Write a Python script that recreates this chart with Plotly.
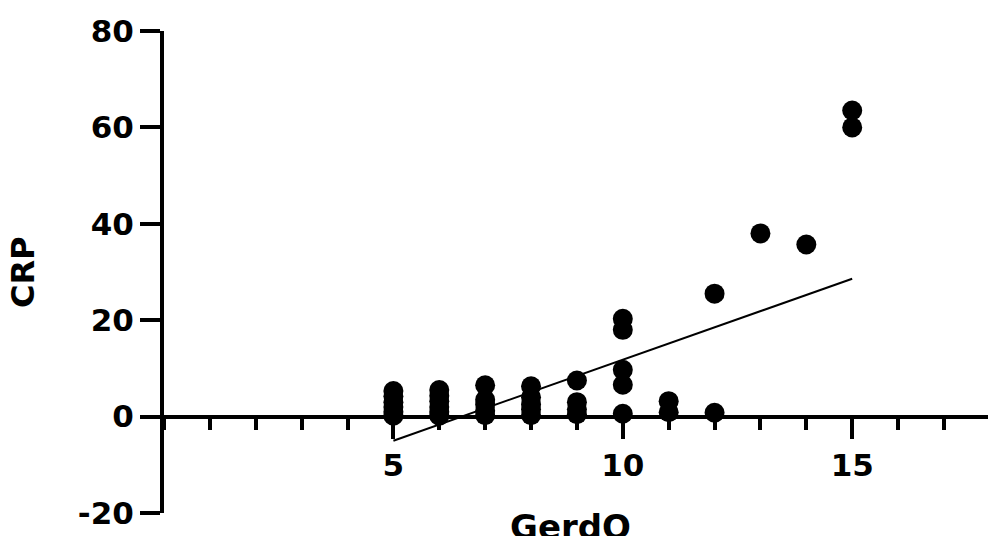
import plotly.graph_objects as go

# Data
gerdq_x = [5, 5, 5, 5, 5, 5,
           6, 6, 6, 6, 6, 6,
           7, 7, 7, 7, 7,
           8, 8, 8, 8, 8,
           9, 9, 9, 9,
           10, 10, 10, 10, 10,
           11, 11,
           12, 12,
           13,
           14,
           15, 15]
crp_y = [0.2, 1.0, 2.0, 3.0, 4.2, 5.3,
         0.2, 1.0, 2.0, 3.2, 4.3, 5.5,
         0.3, 1.2, 2.5, 3.5, 6.5,
         0.3, 1.5, 2.5, 4.0, 6.3,
         0.5, 1.5, 3.0, 7.5,
         0.6, 6.6, 9.7, 18.0, 20.3,
         0.9, 3.2,
         0.8, 25.5,
         38.0,
         35.7,
         60.0, 63.5]

fit_x = [5, 15]
fit_y = [-5.0, 28.6]

x_major_ticks = [5, 10, 15]
y_ticks = [-20, 0, 20, 40, 60, 80]
y_tick_labels = ["-20", "0", "20", "40", "60", "80"]

FONT = "DejaVu Sans, Liberation Sans, Arial, sans-serif"

fig = go.Figure()
fig.add_trace(go.Scatter(
    x=gerdq_x, y=crp_y, mode="markers",
    marker=dict(color="black", size=20, symbol="circle"),
    showlegend=False, cliponaxis=False,
))
fig.add_trace(go.Scatter(
    x=fit_x, y=fit_y, mode="lines",
    line=dict(color="black", width=2),
    showlegend=False, cliponaxis=False,
))

fig.update_layout(
    width=988, height=536,
    margin=dict(l=164, r=0, t=31, b=23),
    paper_bgcolor="white", plot_bgcolor="white",
    font=dict(family=FONT, color="black"),
    xaxis=dict(
        range=[0, 17.96], domain=[0, 1],
        anchor="free", position=0.2,
        showgrid=False, zeroline=False,
        showline=True, linecolor="black", linewidth=4,
        tickmode="array", tickvals=x_major_ticks,
        ticks="outside", ticklen=20, tickwidth=4, tickcolor="black",
        tickfont=dict(size=31, family=FONT, weight="bold"),
        minor=dict(dtick=1, tick0=0, ticks="outside", ticklen=11, tickwidth=4,
                   tickcolor="black", showgrid=False),
        layer="above traces",
    ),
    yaxis=dict(
        range=[-20, 80], domain=[0, 1],
        showgrid=False, zeroline=False,
        showline=True, linecolor="black", linewidth=4,
        tickmode="array", tickvals=y_ticks, ticktext=y_tick_labels,
        ticks="outside", ticklen=20, tickwidth=4, tickcolor="black",
        tickfont=dict(size=31, family=FONT, weight="bold"),
        layer="above traces",
    ),
    annotations=[
        dict(text="CRP", xref="paper", yref="paper", x=-0.171, y=0.5,
             textangle=-90, showarrow=False, xanchor="center", yanchor="middle",
             font=dict(size=32, family=FONT, weight="bold", color="black")),
        dict(text="GerdQ", xref="paper", yref="paper", x=0.493, y=-0.03,
             showarrow=False, xanchor="center", yanchor="middle",
             font=dict(size=34, family=FONT, weight="bold", color="black")),
    ],
)

fig.write_html(
    "out.html",
    config={"displayModeBar": False},
    post_script="document.body.style.margin='0px';document.body.style.overflow='hidden';",
)
